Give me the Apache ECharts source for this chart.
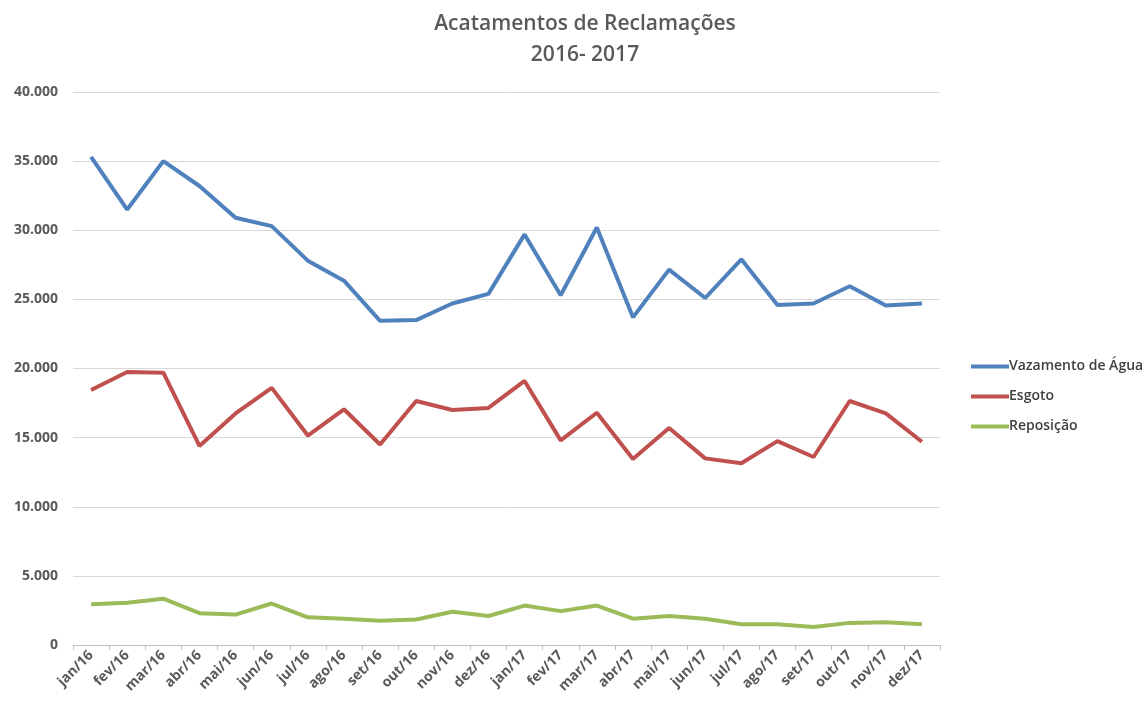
<!DOCTYPE html>
<html lang="pt">
<head>
    <meta charset="UTF-8">
    <title>Acatamentos de Reclamações</title>
    <script src="https://cdn.jsdelivr.net/npm/echarts@6/dist/echarts.min.js"></script>
    <style>
        html, body { margin: 0; padding: 0; background: #fff; }
    </style>
</head>
<body>

<div id="wrap" style="width: 1147px; height: 701px;"></div>

<script>
    var meses = ['jan/16', 'fev/16', 'mar/16', 'abr/16', 'mai/16', 'jun/16', 'jul/16', 'ago/16', 'set/16', 'out/16', 'nov/16', 'dez/16',
        'jan/17', 'fev/17', 'mar/17', 'abr/17', 'mai/17', 'jun/17', 'jul/17', 'ago/17', 'set/17', 'out/17', 'nov/17', 'dez/17'];

    var vazamento = [35300, 31500, 35000, 33200, 30900, 30300, 27800, 26350, 23450, 23500, 24700, 25400,
        29700, 25300, 30200, 23700, 27150, 25100, 27900, 24600, 24700, 25950, 24550, 24700];

    var esgoto = [18450, 19750, 19700, 14400, 16750, 18600, 15150, 17050, 14500, 17650, 17000, 17150,
        19100, 14800, 16800, 13450, 15700, 13500, 13150, 14750, 13600, 17650, 16750, 14700];

    var reposicao = [2950, 3050, 3350, 2300, 2200, 3000, 2000, 1900, 1750, 1850, 2400, 2100,
        2850, 2450, 2850, 1900, 2100, 1900, 1500, 1500, 1300, 1600, 1650, 1500];

    var fonte = '"Open Sans", sans-serif';

    // 40000 -> "40.000"
    function milhar(v) {
        return String(v).replace(/\B(?=(\d{3})+(?!\d))/g, '.');
    }

    var myChart = echarts.init(document.getElementById('wrap'));

    var option = {
        animation: false,
        title: {
            text: 'Acatamentos de Reclamações\n2016- 2017',
            left: 580,
            textAlign: 'center',
            top: 4,
            textStyle: {
                fontFamily: fonte,
                fontSize: 21,
                fontWeight: 600,
                color: '#595959',
                lineHeight: 31
            }
        },
        legend: {
            orient: 'vertical',
            left: 966,
            top: 352,
            icon: 'rect',
            itemWidth: 38,
            itemHeight: 4,
            itemGap: 11,
            textStyle: {
                fontFamily: fonte,
                fontSize: 14,
                fontWeight: 600,
                color: '#404040',
                lineHeight: 19,
                padding: [0, 0, 0, -5]
            },
            data: ['Vazamento de Água', 'Esgoto', 'Reposição']
        },
        grid: {
            left: 73,
            right: 207,
            top: 92,
            bottom: 56,
            containLabel: false
        },
        xAxis: {
            type: 'category',
            data: meses,
            boundaryGap: true,
            axisLine: {
                lineStyle: { color: '#bfbfbf', width: 1 }
            },
            axisTick: {
                show: true,
                alignWithLabel: false,
                length: 5,
                lineStyle: { color: '#bfbfbf' }
            },
            axisLabel: {
                rotate: 45,
                interval: 0,
                margin: 8,
                fontFamily: fonte,
                fontSize: 14,
                fontWeight: 'bold',
                color: '#595959'
            }
        },
        yAxis: {
            type: 'value',
            min: 0,
            max: 40000,
            interval: 5000,
            axisLine: { show: false },
            axisTick: { show: false },
            splitLine: {
                lineStyle: { color: '#d9d9d9', width: 1 }
            },
            axisLabel: {
                margin: 15,
                fontFamily: fonte,
                fontSize: 14,
                fontWeight: 'bold',
                color: '#595959',
                formatter: milhar
            }
        },
        series: [{
            name: 'Vazamento de Água',
            type: 'line',
            data: vazamento,
            symbol: 'none',
            lineStyle: { width: 4, color: '#4f81bd' },
            itemStyle: { color: '#4f81bd' }
        }, {
            name: 'Esgoto',
            type: 'line',
            data: esgoto,
            symbol: 'none',
            lineStyle: { width: 4, color: '#c0504d' },
            itemStyle: { color: '#c0504d' }
        }, {
            name: 'Reposição',
            type: 'line',
            data: reposicao,
            symbol: 'none',
            lineStyle: { width: 4, color: '#9bbb59' },
            itemStyle: { color: '#9bbb59' }
        }]
    };

    myChart.setOption(option);
</script>
</body>
</html>
